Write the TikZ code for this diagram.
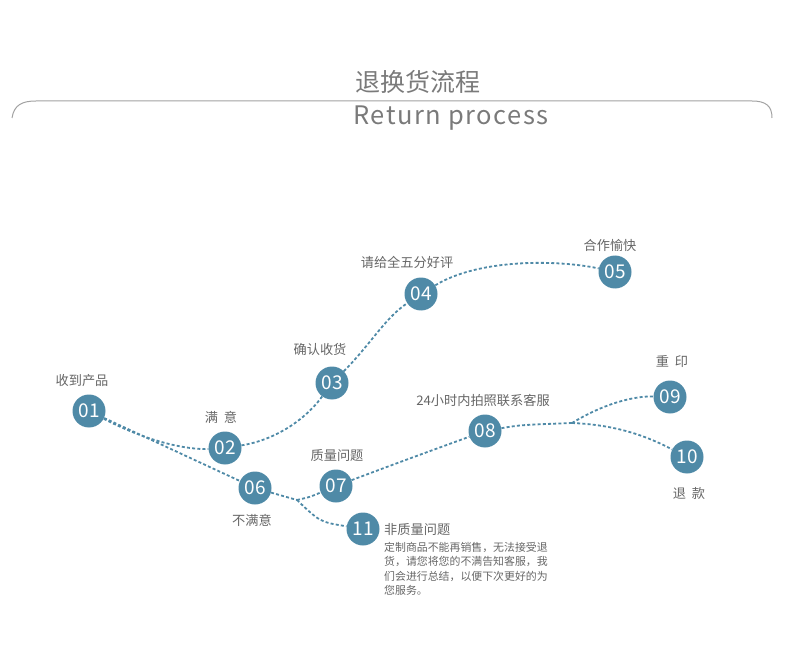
\documentclass[tikz,border=0pt]{standalone}
\usepackage{fontspec}
\setmainfont{Noto Sans CJK SC}
\definecolor{stepblue}{HTML}{4F8AA7}
\definecolor{labgray}{HTML}{666666}
\definecolor{titlegray}{HTML}{7A7A7A}
\begin{document}
\begin{tikzpicture}[x=1pt,y=-1pt,
  num/.style={circle,fill=stepblue,minimum size=33pt,inner sep=0pt,text=white,font=\fontsize{19}{19}\selectfont},
  lab/.style={text=labgray,font=\fontsize{13.2}{14}\selectfont,inner sep=0pt},
  conn/.style={draw=stepblue,line width=1.8pt,dash pattern=on 3pt off 2.2pt}]
\useasboundingbox (0,0) rectangle (790,655);
% header
\draw[titlegray!70,line width=1pt] (12,118) .. controls (14,105) and (22,101) .. (36,101) -- (752,101) .. controls (766,101) and (772,106) .. (772,118);
\node[text=titlegray,font=\fontsize{25}{25}\selectfont,inner sep=0pt] (title) at (418,82) {退换货流程};
\node[text=titlegray,font=\fontsize{25.5}{25.5}\selectfont\addfontfeatures{LetterSpace=6},inner sep=0pt] (sub) at (451,118) {Return process};
% nodes
\node[num] (n01) at (89,411) {01};
\node[num] (n02) at (225,448) {02};
\node[num] (n03) at (332,383) {03};
\node[num] (n04) at (421,294) {04};
\node[num] (n05) at (615,272) {05};
\node[num] (n06) at (255,488) {06};
\node[num] (n07) at (336,486) {07};
\node[num] (n08) at (485,431) {08};
\node[num] (n09) at (670,397) {09};
\node[num] (n10) at (687,457) {10};
\node[num] (n11) at (363,529) {11};
\coordinate (b1) at (297,500);
\coordinate (b2) at (572,423);
% labels
\node[lab] (l01) at (82,381) {收到产品};
\node[lab] (l02) at (221,417) {满\ \ 意};
\node[lab] (l03) at (320,349) {确认收货};
\node[lab] (l04) at (407,262) {请给全五分好评};
\node[lab] (l05) at (610,245) {合作愉快};
\node[lab] (l06) at (252,520) {不满意};
\node[lab] (l07) at (337,456) {质量问题};
\node[lab] (l08) at (483,400) {24小时内拍照联系客服};
\node[lab] (l09) at (672,362) {重\ \ 印};
\node[lab] (l10) at (689,493) {退\ \ 款};
\node[lab,anchor=west] (l11) at (384,530) {非质量问题};
\node[text=labgray,font=\fontsize{10.9}{14.3}\selectfont,inner sep=0pt,anchor=north west,align=left] (desc) at (384,542) {定制商品不能再销售，无法接受退\\货，请您将您的不满告知客服，我\\们会进行总结，以便下次更好的为\\您服务。};
% connectors
\draw[conn] (n01) .. controls (150,443) and (190,450) .. (n02);
\draw[conn] (n01) -- (n06);
\draw[conn] (n02) .. controls (275,440) and (305,420) .. (n03);
\draw[conn] (n03) .. controls (370,345) and (385,318) .. (n04);
\draw[conn] (n04) .. controls (480,258) and (560,260) .. (n05);
\draw[conn] (n06) -- (b1);
\draw[conn] (b1) .. controls (310,497) .. (n07);
\draw[conn] (b1) .. controls (320,522) .. (n11);
\draw[conn] (n07) .. controls (400,462) .. (n08);
\draw[conn] (n08) .. controls (520,425) .. (b2);
\draw[conn] (b2) .. controls (610,400) and (640,396) .. (n09);
\draw[conn] (b2) .. controls (620,425) and (650,438) .. (n10);
\end{tikzpicture}
\end{document}
